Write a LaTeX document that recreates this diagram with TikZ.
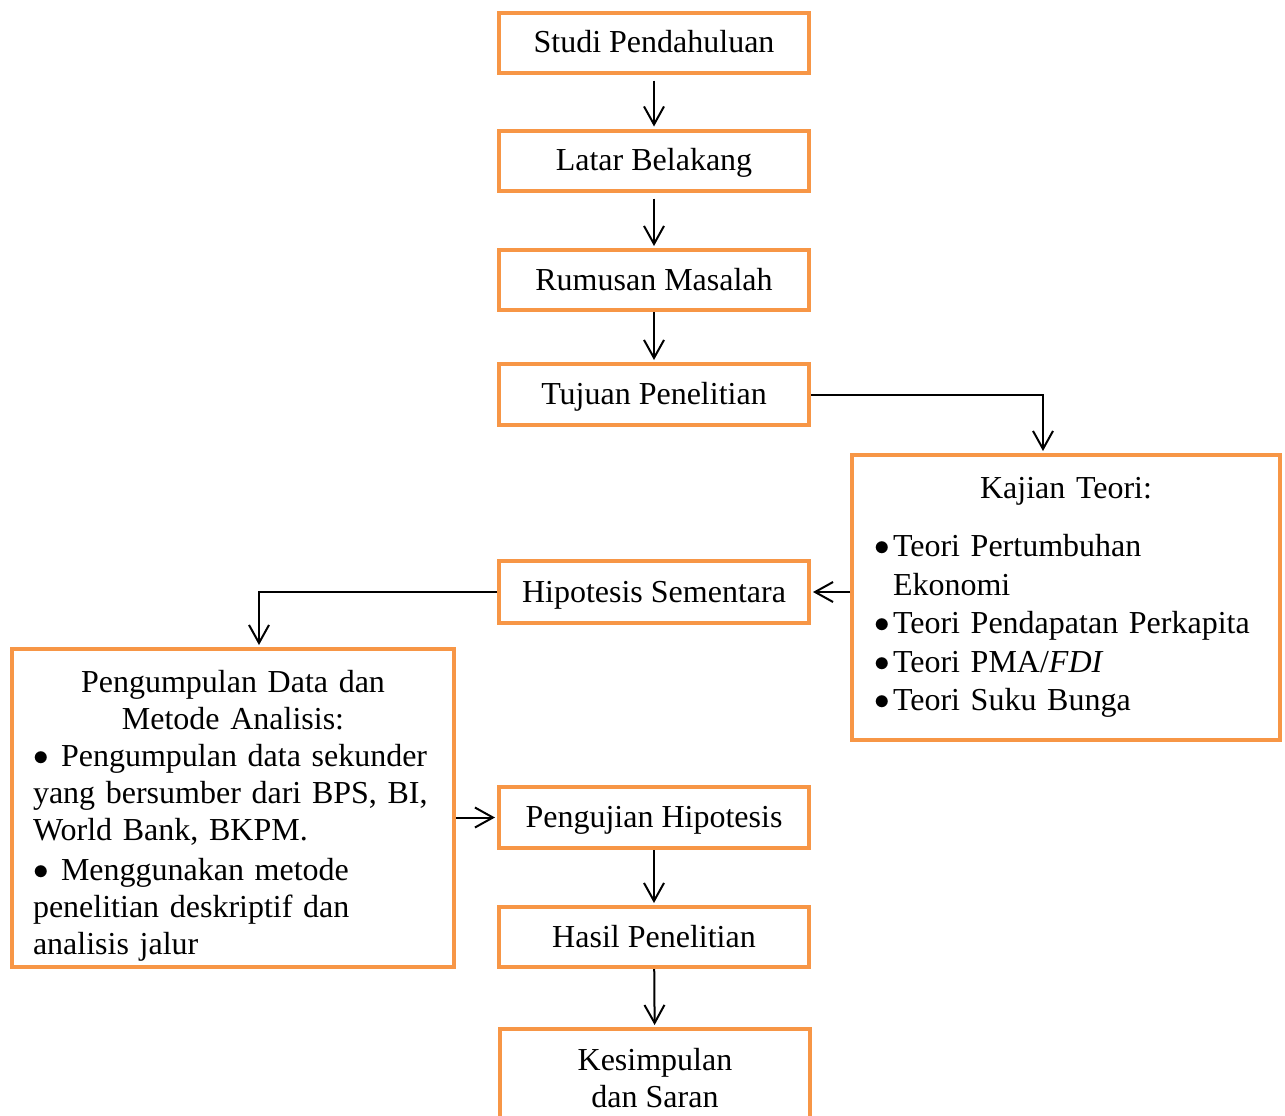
\documentclass[tikz,border=0pt]{standalone}
\usepackage{fontspec}
\setmainfont{Liberation Serif}
\usetikzlibrary{arrows.meta}
\definecolor{boxorange}{RGB}{247,150,70}
\newcommand{\dotmark}{\raisebox{0.7pt}{\scalebox{0.9}{$\bullet$}}}
\newcommand{\kitem}[1]{\par\noindent\makebox[9.5pt][l]{\dotmark}#1}
\newcommand{\pitem}{\noindent\makebox[14pt][l]{\dotmark}}

\begin{document}
\begin{tikzpicture}[x=0.5pt,y=-0.5pt]
\tikzstyle{frame}=[rectangle, draw=boxorange, fill=white, line width=2pt, minimum width=155pt, minimum height=30pt, inner sep=0pt, font=\fontsize{16}{18.5}\selectfont, align=center]
\tikzstyle{box}=[frame, text height=13pt, text depth=3pt]
\tikzstyle{bigbox}=[frame, align=left]
\tikzstyle{arr}=[draw=black, line width=1pt, shorten >=1pt, -{Straight Barb[length=9pt,width=10pt]}]

\useasboundingbox (0,0) rectangle (1285,1115);

% main column
\node[box] (studi) at (654,42.5) {Studi Pendahuluan};
\node[box] (latar) at (654,160.5) {Latar Belakang};
\node[box] (rumusan) at (654,280) {Rumusan Masalah};
\node[box, minimum height=30.5pt] (tujuan) at (654,394.5) {Tujuan Penelitian};
\node[box, minimum height=31pt] (hipotesis) at (654,592) {Hipotesis Sementara};
\node[box, minimum height=30.5pt] (pengujian) at (654,817.5) {Pengujian Hipotesis};
\node[box] (hasil) at (654,937) {Hasil Penelitian};
\node[frame, minimum height=49.5pt] (kesimpulan) at (655,1078.5) {Kesimpulan\\dan Saran};

% side boxes
\node[bigbox, minimum width=214pt, minimum height=142.5pt, inner xsep=11pt, text width=192pt,
  font=\fontsize{16}{19.25}\selectfont] (kajian) at (1066,597.5)
  {{\centering Kajian Teori:\par}\vspace{10pt}
   \kitem{Teori Pertumbuhan\\\hspace*{9.5pt}Ekonomi}
   \kitem{Teori Pendapatan Perkapita}
   \kitem{Teori PMA/\textit{FDI}}
   \kitem{Teori Suku Bunga}};
\node[bigbox, minimum width=221pt, minimum height=159pt, inner xsep=10.5pt, text width=200pt,
  font=\fontsize{16}{18.5}\selectfont] (kumpul) at (233,808)
  {{\centering\rule{0pt}{19pt}Pengumpulan Data dan\\Metode Analisis:\par}
   \pitem Pengumpulan data sekunder\\
   yang bersumber dari BPS, BI,\\
   World Bank, BKPM.\par\vspace{1.5pt}
   \pitem Menggunakan metode\\
   penelitian deskriptif dan\\
   analisis jalur};

\path
(studi) edge[arr, shorten <=3pt] (latar)
(latar) edge[arr, shorten <=3pt] (rumusan)
(rumusan) edge[arr] (tujuan)
(pengujian) edge[arr] (hasil)
(hasil) edge[arr] (kesimpulan);

\draw[arr] (tujuan.east) -| ([xshift=-11.5pt]kajian.north);
\draw[arr] (kajian.west |- hipotesis.east) -- (hipotesis.east);
\draw[arr] (hipotesis.west) -| ([xshift=13pt]kumpul.north);
\draw[arr] (kumpul.east |- pengujian.west) -- (pengujian.west);
\end{tikzpicture}
\end{document}
